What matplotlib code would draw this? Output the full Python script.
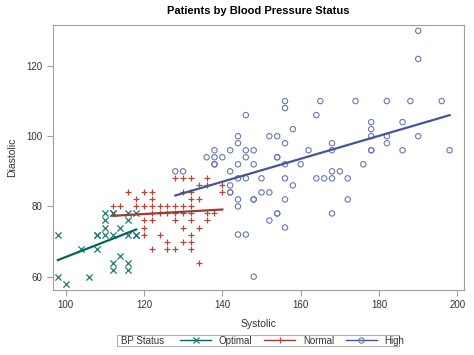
import numpy as np
import matplotlib
matplotlib.use("Agg")
import matplotlib.pyplot as plt
from matplotlib.lines import Line2D
from matplotlib.patches import Rectangle

plt.rcParams['font.family'] = ['Liberation Sans', 'DejaVu Sans']

# ---- data (Systolic, Diastolic) ----
opt_sys = [98, 98, 100, 104, 106, 108, 108, 108, 110, 110, 110, 110, 112, 112, 112, 112, 112,
           114, 114, 116, 116, 116, 116, 116, 118, 118, 118]
opt_dia = [72, 60, 58, 68, 60, 72, 72, 68, 78, 76, 74, 72, 78, 78, 72, 64, 62,
           74, 66, 78, 76, 72, 64, 62, 78, 72, 72]

norm_sys = [128, 130, 132, 136,
            134, 136, 140,
            116, 120, 122, 130, 132, 140,
            118, 122, 132, 134,
            112, 114, 118, 120, 122, 124, 126, 128, 130, 132,
            122, 124, 126, 128, 130, 132, 136, 138,
            120, 122, 128, 132, 136,
            120, 130, 134,
            120, 124, 132,
            126, 130, 132,
            122, 126, 128, 132,
            134]
norm_dia = [88, 88, 88, 88,
            86, 86, 86,
            84, 84, 84, 84, 84, 84,
            82, 82, 82, 82,
            80, 80, 80, 80, 80, 80, 80, 80, 80, 80,
            78, 78, 78, 78, 78, 78, 78, 78,
            76, 76, 76, 76, 76,
            74, 74, 74,
            72, 72, 72,
            70, 70, 70,
            68, 68, 68, 68,
            64]

high_sys = [190, 190,
            156, 165, 174, 182, 188, 196,
            156,
            146, 164,
            178, 186,
            158, 178,
            144, 152, 154, 178, 182, 190,
            144, 156, 168, 182,
            138, 142, 146, 148, 162, 168, 178, 178, 186, 198,
            136, 138, 140, 146, 154, 154,
            138, 138, 144, 148, 156, 160, 176,
            128, 130, 142, 168, 170,
            144, 146, 150, 156, 164, 166, 168, 172,
            142, 158,
            142, 142, 150, 152,
            144, 148, 148, 156, 172,
            144,
            154, 154, 168,
            152,
            156,
            144, 146,
            148]
high_dia = [130, 122,
            110, 110, 110, 110, 110, 110,
            108,
            106, 106,
            104, 104,
            102, 102,
            100, 100, 100, 100, 100, 100,
            98, 98, 98, 98,
            96, 96, 96, 96, 96, 96, 96, 96, 96, 96,
            94, 94, 94, 94, 94, 94,
            92, 92, 92, 92, 92, 92, 92,
            90, 90, 90, 90, 90,
            88, 88, 88, 88, 88, 88, 88, 88,
            86, 86,
            84, 84, 84, 84,
            82, 82, 82, 82, 82,
            80,
            78, 78, 78,
            76,
            74,
            72, 72,
            60]

groups = ["Optimal", "Normal", "High"]
legend_title = "BP Status"
line_colors = ["#01665E", "#A23A2E", "#445694"]
marker_colors = ["#1f7a70", "#b5473b", "#6a78b0"]
markers = ["x", "+", "o"]
xs = [opt_sys, norm_sys, high_sys]
ys = [opt_dia, norm_dia, high_dia]

W, H = 474, 355
fig = plt.figure(figsize=(W / 100, H / 100), dpi=100)
ax = fig.add_axes([0.112, 0.183, 0.867, 0.747])

for x, y, lc, mc, m in zip(xs, ys, line_colors, marker_colors, markers):
    x = np.asarray(x, float)
    y = np.asarray(y, float)
    if m == "o":
        ax.scatter(x, y, s=15, marker=m, facecolors="none", edgecolors=mc, linewidths=0.8, zorder=2)
    else:
        ax.scatter(x, y, s=20, marker=m, color=mc, linewidths=0.9, zorder=2)
    b, a = np.polyfit(x, y, 1)
    xx = np.array([x.min(), x.max()])
    ax.plot(xx, a + b * xx, color=lc, lw=1.6, zorder=3)

ax.set_xlim(96.8, 201.7)
ax.set_ylim(56.2, 131.7)
ax.set_xticks([100, 120, 140, 160, 180, 200])
ax.set_yticks([60, 80, 100, 120])
for s in ax.spines.values():
    s.set_color("#a0a0a0")
    s.set_linewidth(0.8)
ax.tick_params(colors="#a0a0a0", labelcolor="#333333", labelsize=7, length=4, width=0.8)

ax.set_xlabel("Systolic", fontsize=7.5, color="#333333", labelpad=6)
ax.set_ylabel("Diastolic", fontsize=7.5, color="#333333", labelpad=7)
ax.set_title("Patients by Blood Pressure Status", fontsize=8, fontweight="bold", pad=8)

# legend: frame + title text + entries
box_l, box_r, box_t, box_b = 117, 399, 335, 346
fig.patches.append(Rectangle((box_l / W, 1 - box_b / H), (box_r - box_l) / W, (box_b - box_t) / H,
                             transform=fig.transFigure, fill=False, edgecolor="#b0b0b0", lw=0.8))
yc = 1 - (box_t + box_b) / 2 / H
fig.text(121 / W, yc, legend_title, fontsize=7, color="#333333", ha="left", va="center")

handles = []
for lc, mc, m in zip(line_colors, marker_colors, markers):
    if m == "o":
        h = Line2D([], [], color=lc, lw=1, marker=m, markersize=3.8, markerfacecolor="none",
                   markeredgecolor=mc, markeredgewidth=0.8)
    else:
        h = Line2D([], [], color=lc, lw=1, marker=m, markersize=4.5, markeredgecolor=mc,
                   markeredgewidth=0.9)
    handles.append(h)
leg = fig.legend(handles, groups, loc="center left", bbox_to_anchor=(180 / W, yc), ncol=3,
                 fontsize=7, frameon=False, handlelength=3.2, handletextpad=0.8,
                 columnspacing=1.2, borderpad=0.0, borderaxespad=0.0, labelcolor="#333333")

fig.savefig("out.png", dpi=100, facecolor="white")
